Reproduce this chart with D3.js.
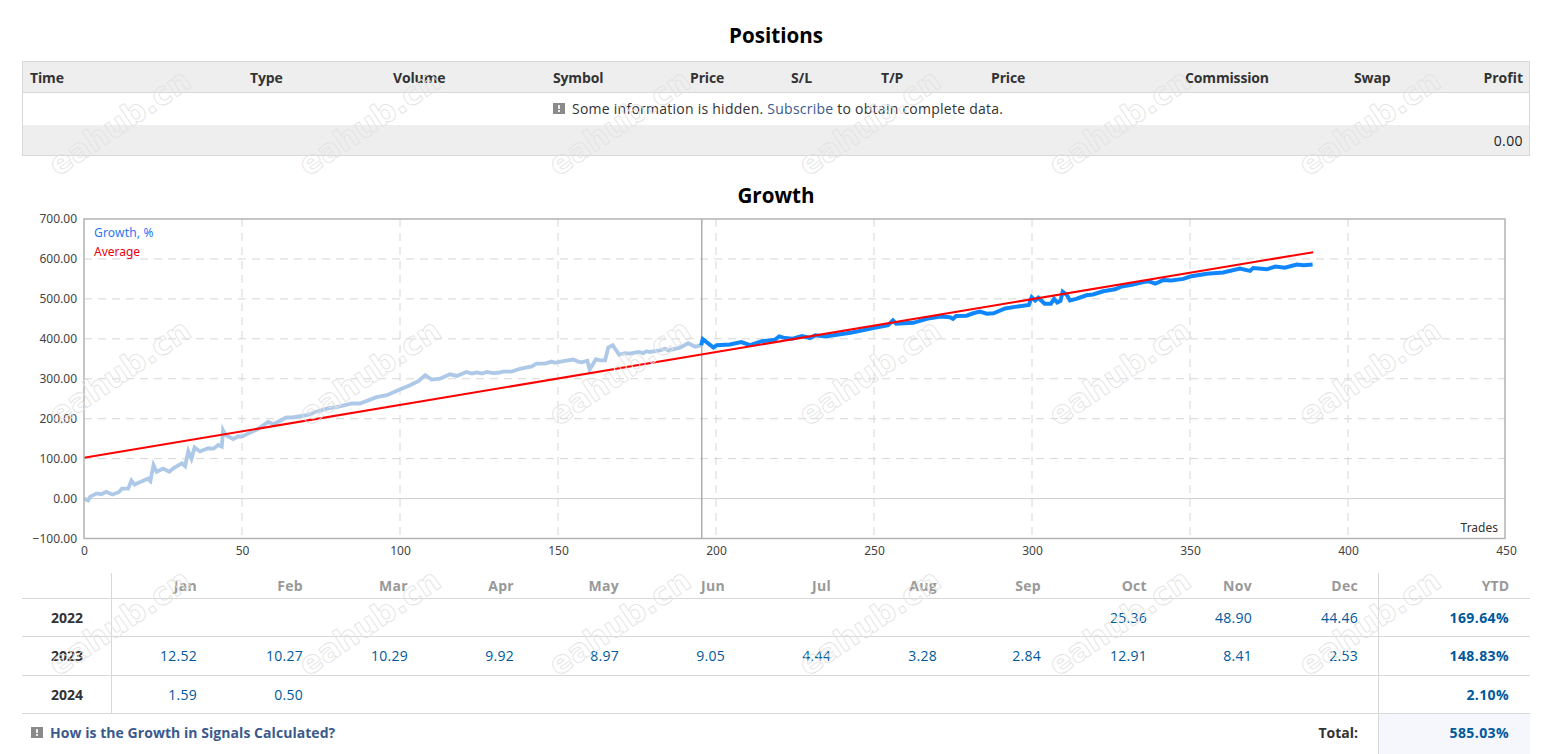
<!DOCTYPE html>
<html lang='en'>
  <head>
    <meta charset='utf-8'>
    <style>
      html, body { margin: 0; padding: 0; background: #fff; overflow: hidden; }
      svg { display: block; font-family: 'Open Sans', sans-serif; }
      .axis text { font-size: 12px; fill: #444; font-family: 'Noto Sans', sans-serif; }
      .axis path, .axis line { display: none; }
    </style>
  </head>
  <body>
    <div id='chart'></div>
    <script src='https://d3js.org/d3.v7.min.js'></script>
    <script>
      var trades = [0,1.3,2,4,5.5,7,9,11,12,14,15,16,18.2,20.3,21,22,23,25,27,28.5,31,32,33,34,35,36.7,39.3,41,42.5,43.6,44,44.8,47.2,48.8,50,52.5,55,58.3,60,64,66,70.5,72.6,76.8,81,84.7,87.3,92.6,95.8,100.5,103,105.8,108,110,112.7,115.8,118,121,122.7,124.3,126,127.4,129.5,131,132.6,135.3,138,141.7,143.2,145.9,148,149,151.7,154.8,156.4,157.5,159.3,160,162,163.3,164.9,165.9,167.3,169.4,171.2,172.8,175.4,177,178,179,182.3,183.9,185,188.6,191.2,193.4,195.3,195.8,199.2,200.2,204.4,208,210.8,214.5,218.7,220,221.3,224,227.2,229.8,231.4,234.6,238.2,242.5,244.5,249.8,254.5,256,257,262.4,266.7,271,274,275,276,279.3,281.4,283.5,285.7,287.8,291.5,294.6,299,299.9,301,302,304,306,307,308,309,309.7,311,312,314,317.2,319.3,322.5,326.3,328.4,332,335.2,337,339,341.5,344,347.9,350,355.3,360.5,365.8,369,370,374.3,377,380,383.8,386,388.8];
      var growth = [0,-5,5,13,11,17,10,16,25,25,45,35,43,50,44,84,67,75,67,77,88,81,119,100,128,118,126,125,134,130,171,159,149,156,155,165,174,192,186,203,203,209,215,225,231,238,238,254,259,275,283,294,309,298,300,311,307,317,313,316,313,317,314,315,318,318,325,331,338,338,343,340,344,348,343,341,345,323,349,346,346,378,384,360,364,363,367,364,369,367,371,375,371,378,389,380,384,399,378,384,386,392,384,394,398,406,403,400,407,402,409,406,410,415,418,427,434,446,438,440,450,456,454,450,457,458,464,468,463,464,476,480,485,504,496,503,488,488,500,491,495,518,510,496,500,509,511,519,524,531,536,542,544,538,547,546,550,556,563,566,576,570,577,574,581,578,586,584,586];
      var averageTrades = [0, 389];
      var averageValues = [102, 617];
      var markerTrade = 195.5;

      var xTicks = [0,50,100,150,200,250,300,350,400,450];
      var yTicks = [-100,0,100,200,300,400,500,600,700];

      var positionColumns = ['Time','Type','Volume','Symbol','Price','S/L','T/P','Price','Commission','Swap'];
      var positionColumnX = [30,250,393,553,690,791,881,991,1185,1354];

      var months = ['Jan','Feb','Mar','Apr','May','Jun','Jul','Aug','Sep','Oct','Nov','Dec'];
      var monthRight = [197,303,408,514,619,725,831,937,1041,1147,1252,1358];
      var years = ['2022','2023','2024'];
      var yearBaseline = [623,661,700];
      var monthly2022 = [null,null,null,null,null,null,null,null,null,'25.36','48.90','44.46'];
      var monthly2023 = ['12.52','10.27','10.29','9.92','8.97','9.05','4.44','3.28','2.84','12.91','8.41','2.53'];
      var monthly2024 = ['1.59','0.50',null,null,null,null,null,null,null,null,null,null];
      var ytd = ['169.64%','148.83%','2.10%'];

      var svg = d3.select('#chart').append('svg')
          .attr('width', 1546)
          .attr('height', 754);

      function label(x, y, text, size, weight, color, anchor) {
        return svg.append('text')
            .attr('x', x).attr('y', y)
            .attr('text-anchor', anchor || 'start')
            .style('font-size', size + 'px')
            .style('font-weight', weight)
            .style('fill', color)
            .text(text);
      }

      function hline(x1, x2, y, color) {
        svg.append('line').attr('x1', x1).attr('x2', x2).attr('y1', y).attr('y2', y)
            .attr('stroke', color).attr('stroke-width', 1);
      }

      function vline(x, y1, y2, color) {
        svg.append('line').attr('x1', x).attr('x2', x).attr('y1', y1).attr('y2', y2)
            .attr('stroke', color).attr('stroke-width', 1);
      }

      function infoIcon(x, y) {
        svg.append('rect').attr('x', x).attr('y', y).attr('width', 12).attr('height', 11).attr('fill', '#8a8a8a');
        svg.append('rect').attr('x', x + 5).attr('y', y + 2).attr('width', 2).attr('height', 4).attr('fill', '#eee');
        svg.append('rect').attr('x', x + 5).attr('y', y + 7).attr('width', 2).attr('height', 2).attr('fill', '#eee');
      }

      // positions table
      label(776, 43, 'Positions', 20.6, 700, '#000', 'middle');
      svg.append('rect').attr('x', 22.5).attr('y', 61.5).attr('width', 1507).attr('height', 31)
          .attr('fill', '#eee');
      svg.append('rect').attr('x', 22.5).attr('y', 125).attr('width', 1507).attr('height', 30.5)
          .attr('fill', '#eee');
      svg.append('rect').attr('x', 22.5).attr('y', 61.5).attr('width', 1507).attr('height', 94)
          .attr('fill', 'none').attr('stroke', '#d8d8d8');
      hline(22, 1530, 92.5, '#d8d8d8');
      positionColumns.forEach(function (c, i) {
        label(positionColumnX[i], 83, c, 14, 700, '#333').style('letter-spacing', '-0.15px');
      });
      label(1523, 83, 'Profit', 14, 700, '#333', 'end');
      infoIcon(553, 103);
      var note = label(572, 114, 'Some information is hidden. ', 14, 400, '#333').style('letter-spacing', '0.25px');
      note.append('tspan').style('fill', '#3b5a8c').text('Subscribe');
      note.append('tspan').text(' to obtain complete data.');
      label(1523, 146, '0.00', 14, 400, '#222', 'end').style('letter-spacing', '0.4px');

      // growth chart
      label(776, 203, 'Growth', 20.6, 700, '#000', 'middle');

      var x = d3.scaleLinear().domain([0, 450]).range([84, 1506]);
      var y = d3.scaleLinear().domain([-100, 700]).range([538.5, 219]);

      var grid = svg.append('g');
      grid.selectAll('.gy').data(yTicks.slice(2, 8)).enter().append('line')
          .attr('x1', x(0)).attr('x2', x(450) - 1)
          .attr('y1', function (d) { return y(d); }).attr('y2', function (d) { return y(d); })
          .attr('stroke', '#d6d6d6').attr('stroke-dasharray', '8,6');
      grid.selectAll('.gx').data(xTicks.slice(1, 9)).enter().append('line')
          .attr('x1', function (d) { return x(d); }).attr('x2', function (d) { return x(d); })
          .attr('y1', y(700)).attr('y2', y(-100))
          .attr('stroke', '#d6d6d6').attr('stroke-dasharray', '8,6');
      grid.append('line').attr('x1', x(0)).attr('x2', x(450) - 1).attr('y1', y(0)).attr('y2', y(0))
          .attr('stroke', '#cfcfcf');

      svg.append('line').attr('x1', x(markerTrade)).attr('x2', x(markerTrade))
          .attr('y1', y(700)).attr('y2', y(-100))
          .attr('stroke', '#9a9a9a').attr('stroke-width', 1.2);

      var points = trades.map(function (t, i) { return [t, growth[i]]; });
      var line = d3.line()
          .x(function (d) { return x(d[0]); })
          .y(function (d) { return y(d[1]); });

      svg.append('path')
          .attr('d', line(points.filter(function (d) { return d[0] <= 195.3; })))
          .attr('fill', 'none').attr('stroke', '#adc9e7').attr('stroke-width', 3.8);
      svg.append('path')
          .attr('d', line(points.filter(function (d) { return d[0] >= 195.3; })))
          .attr('fill', 'none').attr('stroke', '#0f86fb').attr('stroke-width', 4);
      svg.append('path')
          .attr('d', line(averageTrades.map(function (t, i) { return [t, averageValues[i]]; })))
          .attr('fill', 'none').attr('stroke', '#f00').attr('stroke-width', 2);

      svg.append('rect').attr('x', x(0)).attr('y', y(700))
          .attr('width', x(450) - 1 - x(0)).attr('height', y(-100) - y(700))
          .attr('fill', 'none').attr('stroke', '#b2b2b2').attr('stroke-width', 1.5);

      svg.append('g').attr('class', 'axis')
          .attr('transform', 'translate(0,' + y(-100) + ')')
          .call(d3.axisBottom(x).tickValues(xTicks).tickFormat(d3.format('d')).tickSize(0).tickPadding(8));
      svg.append('g').attr('class', 'axis')
          .attr('transform', 'translate(' + x(0) + ',0)')
          .call(d3.axisLeft(y).tickValues(yTicks).tickFormat(d3.format('.2f')).tickSize(0).tickPadding(7));

      label(94, 237, 'Growth, %', 12, 400, '#2a78f0').style('font-family', "'Noto Sans', sans-serif").style('letter-spacing', '0.2px');
      label(94, 256, 'Average', 12, 400, '#e8000f').style('font-family', "'Noto Sans', sans-serif");
      label(1498, 532, 'Trades', 12, 400, '#333', 'end').style('font-family', "'Noto Sans', sans-serif");

      // monthly table
      [598.5, 636.5, 675.5, 713.5].forEach(function (yy) { hline(22, 1530, yy, '#d8d8d8'); });
      svg.append('rect').attr('x', 1379).attr('y', 714).attr('width', 151).attr('height', 40).attr('fill', '#f5f7fc');
      vline(111.5, 573, 713, '#d8d8d8');
      vline(1378.5, 573, 754, '#d8d8d8');

      months.forEach(function (m, i) {
        label(monthRight[i], 591, m, 14, 700, '#999', 'end').style('letter-spacing', '0.3px');
      });
      label(1509, 591, 'YTD', 14, 700, '#999', 'end');

      [monthly2022, monthly2023, monthly2024].forEach(function (row, r) {
        label(67, yearBaseline[r], years[r], 14, 700, '#333', 'middle');
        row.forEach(function (v, i) {
          if (v !== null) label(monthRight[i], yearBaseline[r], v, 14, 400, '#00599d', 'end').style('letter-spacing', '0.25px');
        });
        label(1509, yearBaseline[r], ytd[r], 14, 700, '#00599d', 'end').style('letter-spacing', '0.4px');
      });

      infoIcon(31, 727);
      label(50, 738, 'How is the Growth in Signals Calculated?', 14, 700, '#3b5a8c').style('letter-spacing', '0.05px');
      label(1358, 738, 'Total:', 14, 700, '#333', 'end');
      label(1509, 738, '585.03%', 14, 700, '#00599d', 'end').style('letter-spacing', '0.4px');

      // watermark
      var marks = [];
      [0, 1, 2].forEach(function (r) {
        d3.range(6).forEach(function (c) { marks.push([c, r]); });
      });
      svg.append('g').selectAll('text').data(marks).enter().append('text')
          .attr('transform', function (d) {
            return 'translate(' + (58 + d[0] * 250) + ',' + (177 + d[1] * 250) + ') rotate(-34)';
          })
          .style('font-family', "'DejaVu Sans', sans-serif")
          .style('font-weight', 700)
          .style('font-size', '31.5px')
          .attr('fill', 'none')
          .attr('stroke', '#e2e2e2')
          .attr('stroke-width', 0.8)
          .attr('stroke-linejoin', 'round')
          .text('eahub.cn');
    </script>
  </body>
</html>
